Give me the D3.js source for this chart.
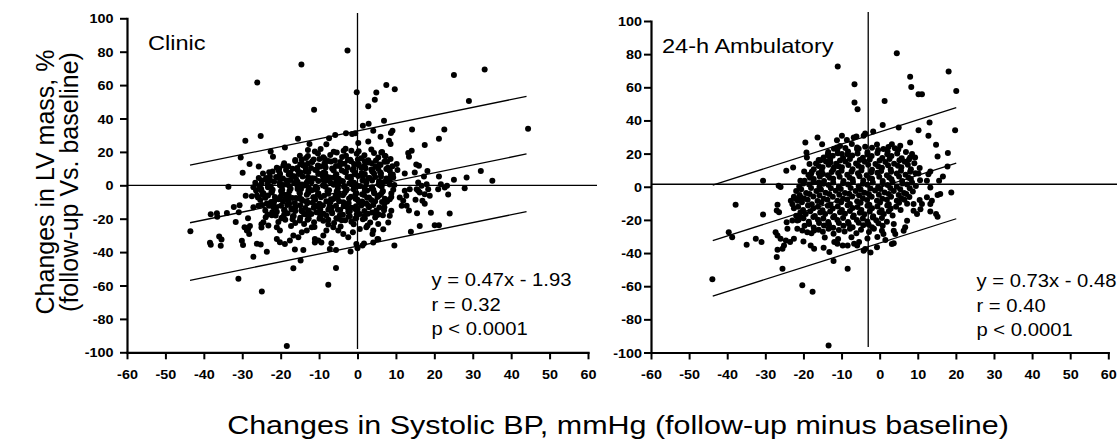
<!DOCTYPE html>
<html>
<head>
<meta charset="utf-8">
<script src="https://cdn.jsdelivr.net/npm/d3@7"></script>
<style>
  body { margin: 0; background: #fff; }
  text { font-family: "Liberation Sans", Arial, Helvetica, sans-serif; fill: #000; }
</style>
</head>
<body>
<div id="chart"></div>
<script>

// ---------- data ----------
const xTickValues = [-60, -50, -40, -30, -20, -10, 0, 10, 20, 30, 40, 50, 60]
const yTickValues = [-100, -80, -60, -40, -20, 0, 20, 40, 60, 80, 100]

const panelNames = ["Clinic", "24-h Ambulatory"]
const clinicStats = ["y = 0.47x - 1.93", "r = 0.32", "p < 0.0001"]
const ambulatoryStats = ["y = 0.73x - 0.48", "r = 0.40", "p < 0.0001"]

// regression: slope, intercept, half width of the band, x extent
const clinicFit = [0.47, -1.93, 34.5, -43.6, 44.0]
const ambulatoryFit = [0.73, -0.48, 33.5, -43.8, 20.1]

// reference cross lines: [x of vertical, y of horizontal]
const clinicCross = [0, 0]
const ambulatoryCross = [-3, 1.5]

const yTitle = ["Changes in LV mass, %", "(follow-up Vs. baseline)"]
const xTitle = "Changes in Systolic BP, mmHg (follow-up minus baseline)"

const clinicPoints = [
  // sparse / outlying
  [-2.6,80.7],[-14.6,72.3],[-26.1,61.5],[-11.3,45.2],[-0.2,55.7],[4.9,55.5],[4.5,51.3],[2.8,47.3],[7.5,60.1],[9.7,57.5],
  [25.1,66.1],[33.1,69.3],[29.0,50.5],[44.4,33.9],[6.9,38.7],[2.9,36.8],[1.4,35.6],[4.1,32.7],[14.2,33.4],[22.6,33.4],
  [9.1,32.7],[8.7,31.3],[6.0,29.1],[21.2,27.9],[17.5,24.2],[2.8,26.3],[8.2,26.7],[8.6,24.7],[14.1,20.7],[13.4,17.1],
  [13.2,19.3],[0.2,25.3],[15.3,12.5],[16.0,11.7],[18.2,8.5],[10.2,12.7],[10.4,9.1],[12.3,7.1],[14.9,7.7],[17.3,5.3],
  [21.2,5.3],[25.1,3.3],[28.4,4.7],[32.1,8.5],[35.1,2.7],[9.3,4.7],[7.5,9.7],[6.2,19.7],[7.1,17.7],[-3.6,20.7],[-1.6,20.7],
  [-29.2,26.7],[-25.2,29.5],[-30.4,16.7],[-28.1,12.7],[-29.9,7.5],[-25.7,11.2],[-22.6,20.3],[-22.0,17.1],[-18.9,22.6],
  [-15.5,27.8],[-12.5,24.8],[-11.1,20.3],[-8.1,24.6],[-8.5,15.7],[-7.4,28.1],[-5.8,30.1],[-3.0,31.1],[-1.4,30.7],[-0.6,31.1],
  [-15.0,17.7],[-23.7,3.3],[-25.0,1.1],[-12.9,21.1],[-33.6,-0.9],
  [-43.5,-27.5],[-38.2,-17.4],[-36.6,-16.7],[-36.5,-18.8],[-34.0,-16.6],[-38.4,-34.4],[-38.2,-35.6],[-36.0,-30.7],[-35.4,-32.4],
  [-35.6,-36.2],[-32.2,-13.0],[-30.7,-12.0],[-31.7,-22.0],[-30.9,-16.2],[-30.1,-33.2],[-29.8,-35.7],[-29.4,-25.1],[-28.8,-27.1],
  [-28.2,-29.2],[-27.1,-42.8],[-25.2,-35.4],[-26.2,-35.0],[-23.6,-39.8],[-31.0,-56.0],[-24.9,-63.6],[-18.4,-96.3],[-16.7,-49.7],
  [-14.8,-45.1],[-14.1,-38.7],[-16.3,-38.5],[-7.6,-59.6],[-5.6,-49.5],[-7.2,-38.1],[-5.6,-38.7],[-6.8,-34.7],[-1.8,-39.7],
  [0.0,-37.7],[-0.3,-35.1],[1.3,-36.1],[5.2,-32.1],[3.9,-29.1],
  [-29.1,-6.2],[-27.5,-6.6],[-26.2,-6.0],[-24.7,-5.6],[-27.1,-13.2],[-25.8,-12.2],[-28.5,-19.7],[-28.0,-24.3],[-28.5,-26.3],
  [-25.0,-23.3],[-25.0,-25.3],[-23.9,-19.1],[-24.5,-22.1],[-23.2,-24.1],
  [-21.0,-25.1],[-20.2,-27.1],[-21.0,-32.1],[-20.2,-34.1],[-18.9,-35.1],[-17.6,-33.1],[-16.7,-30.1],[-15.4,-31.1],[-14.5,-28.1],
  [-13.2,-27.1],[-11.9,-25.1],[-11.1,-32.1],[-10.2,-33.1],[-8.9,-30.1],[-8.1,-27.1],[-6.3,-25.1],[-5.0,-27.1],[-3.7,-29.1],
  [-2.4,-31.1],[-1.2,-28.1],[0.6,-26.1],[2.3,-25.1],[4.1,-27.1],[5.4,-23.1],[-11.1,-34.3],[-9.4,-34.3],
  [27.9,-1.7],[23.3,-0.3],[21.0,-2.3],[22.7,-1.3],[21.7,0.7],[23.6,-5.5],[17.5,-11.1],[16.9,-9.3],[15.1,-8.7],[13.4,-15.1],
  [15.5,-16.7],[19.1,-16.5],[24.0,-16.9],[16.2,-24.3],[20.1,-23.9],[21.2,-23.9],[13.9,-27.8],[9.6,-36.1],[8.4,-18.3],
  [12.3,-3.3],[12.7,-6.3],[15.8,-3.3],[17.5,-5.3],[18.8,-6.3],[18.4,-2.3],[18.0,0.7],[16.2,-4.3],[15.4,-2.3],[16.7,-0.3],
  [15.8,1.7],[13.6,-2.3],[11.9,-9.3],[11.5,-12.3],[12.8,-12.3],[11.0,-7.3],[8.8,-15.3],[8.0,-22.3],[6.7,-26.3],[5.4,-32.3],
  [4.1,-34.3],[1.7,-34.9],
  // dense core
  [-9.6,21.8],[-6.2,20.1],[-3.1,21.9],[0.3,20.4],[3.6,21.5],[6.4,20.0],
  [-12.9,17.5],[-10.3,19.1],[-7.1,18.2],[-5.4,19.6],[-3.0,17.7],[-0.2,18.9],[1.8,18.0],[4.3,19.3],[7.3,17.4],
  [-16.2,15.2],[-13.4,16.4],[-11.4,15.5],[-8.9,16.8],[-5.9,14.9],[-4.0,16.9],[-1.9,15.3],[1.0,16.2],[2.8,15.0],[5.4,16.6],[8.6,15.7],
  [-19.1,13.2],[-16.2,14.6],[-14.4,12.7],[-11.8,13.9],[-8.6,13.0],[-6.9,14.3],[-4.5,12.4],[-1.7,14.4],[0.3,12.8],[2.8,13.7],[5.8,12.5],[7.7,14.1],
  [-21.0,10.5],[-19.3,11.8],[-16.9,9.9],[-14.1,11.9],[-12.1,10.3],[-9.6,11.2],[-6.6,10.0],[-4.7,11.6],[-2.6,10.7],[0.3,12.1],[2.1,10.2],[4.7,11.4],[7.9,10.5],
  [-23.0,7.8],[-20.5,8.7],[-17.5,7.5],[-15.6,9.1],[-13.5,8.2],[-10.6,9.6],[-8.8,7.7],[-6.2,8.9],[-3.0,8.0],[-1.3,9.3],[1.1,7.4],[3.9,9.4],[5.9,7.8],[8.4,8.7],
  [-24.6,7.1],[-22.8,5.2],[-20.2,6.4],[-17.0,5.5],[-15.3,6.8],[-12.9,4.9],[-10.1,6.9],[-8.1,5.3],[-5.6,6.2],[-2.6,5.0],[-0.7,6.6],[1.4,5.7],[4.3,7.1],[6.1,5.2],[8.7,6.4],
  [-25.7,4.3],[-23.3,2.4],[-20.5,4.4],[-18.5,2.8],[-16.0,3.7],[-13.0,2.5],[-11.1,4.1],[-9.0,3.2],[-6.1,4.6],[-4.3,2.7],[-1.7,3.9],[1.5,3.0],[3.2,4.3],[5.6,2.4],[8.4,4.4],
  [-26.6,1.6],[-23.4,0.7],[-21.7,2.1],[-19.3,0.2],[-16.5,1.4],[-14.5,0.5],[-12.0,1.8],[-9.0,-0.1],[-7.1,1.9],[-5.0,0.3],[-2.1,1.2],[-0.3,0.0],[2.3,1.6],[5.5,0.7],[7.2,2.1],[9.6,0.2],
  [-27.1,-1.1],[-25.1,-2.0],[-22.6,-0.7],[-19.6,-2.6],[-17.7,-0.6],[-15.6,-2.2],[-12.7,-1.3],[-10.9,-2.5],[-8.3,-0.9],[-5.1,-1.8],[-3.4,-0.4],[-1.0,-2.3],[1.8,-1.1],[3.8,-2.0],[6.3,-0.7],[9.3,-2.6],
  [-26.4,-3.1],[-24.5,-4.7],[-22.4,-3.8],[-19.5,-5.0],[-17.7,-3.4],[-15.1,-4.3],[-11.9,-2.9],[-10.2,-4.8],[-7.8,-3.6],[-5.0,-4.5],[-3.0,-3.2],[-0.5,-5.1],[2.5,-3.1],[4.4,-4.7],[6.5,-3.8],[8.8,-4.9],
  [-25.9,-7.3],[-23.3,-6.1],[-20.1,-7.0],[-18.4,-5.7],[-16.0,-7.6],[-13.2,-5.6],[-11.2,-7.2],[-8.7,-6.3],[-5.7,-7.5],[-3.8,-5.9],[-1.7,-6.8],[1.2,-5.4],[3.0,-7.3],[5.6,-6.1],[8.8,-7.0],
  [-25.3,-8.8],[-22.5,-10.0],[-20.5,-8.4],[-18.0,-9.3],[-15.0,-7.9],[-13.1,-9.8],[-11.0,-8.6],[-8.1,-9.5],[-6.3,-8.2],[-3.7,-10.1],[-0.5,-8.1],[1.2,-9.7],[3.6,-8.8],[6.4,-10.0],[8.4,-8.4],
  [-24.8,-11.8],[-21.8,-10.4],[-19.9,-12.3],[-17.8,-11.1],[-14.9,-12.0],[-13.1,-10.7],[-10.5,-12.6],[-7.3,-10.6],[-5.6,-12.2],[-3.2,-11.3],[-0.4,-12.5],[1.6,-10.9],[4.1,-11.8],[7.1,-10.4],
  [-24.0,-15.1],[-21.9,-13.1],[-19.0,-14.7],[-17.2,-13.8],[-14.6,-15.0],[-11.4,-13.4],[-9.7,-14.3],[-7.3,-12.9],[-4.5,-14.8],[-2.5,-13.6],[0.0,-14.5],[3.0,-13.2],[4.9,-15.1],[7.0,-13.1],
  [-23.4,-17.5],[-21.0,-15.9],[-18.2,-16.8],[-16.2,-15.4],[-13.7,-17.3],[-10.7,-16.1],[-8.8,-17.0],[-6.7,-15.7],[-3.8,-17.6],[-2.0,-15.6],[0.6,-17.2],[3.8,-16.3],[5.5,-17.5],
  [-22.3,-17.9],[-19.8,-19.8],[-16.8,-18.6],[-14.9,-19.5],[-12.8,-18.2],[-9.9,-20.1],[-8.1,-18.1],[-5.5,-19.7],[-2.3,-18.8],[-0.6,-20.0],[1.8,-18.4],[4.6,-19.3],[6.6,-17.9],
  [-20.6,-22.0],[-18.8,-20.7],[-16.2,-22.6],[-13.0,-20.6],[-11.3,-22.2],[-8.9,-21.3],[-6.1,-22.5],[-4.1,-20.9],[-1.6,-21.8],[1.4,-20.4],[3.3,-22.3],
  [-17.3,-24.3],[-13.9,-23.2],[-11.2,-24.9],[-7.6,-23.5],[-4.4,-24.6],[-1.0,-23.3],[2.6,-24.1],
  // dense core, second layer
  [-14.5,15.3],[-11.8,14.2],[-9.9,15.7],[-7.6,14.6],[-4.5,13.9],[-2.5,15.1],[0.1,15.5],[1.9,14.4],[4.8,14.9],[7.0,14.1],
  [-18.0,11.4],[-14.9,12.6],[-12.9,13.0],[-10.3,11.9],[-8.5,12.4],[-5.6,11.6],[-3.4,12.9],[-0.9,12.8],[1.8,11.7],[3.7,13.2],[6.0,12.1],[9.1,11.4],
  [-20.4,9.9],[-18.6,9.1],[-15.7,10.4],[-13.5,10.3],[-11.0,9.2],[-8.3,10.7],[-6.4,9.6],[-4.1,8.9],[-1.0,10.1],[1.0,10.5],[3.6,9.4],[5.4,9.9],[8.3,9.1],
  [-22.1,8.2],[-20.2,7.1],[-17.9,6.4],[-14.8,7.6],[-12.8,8.0],[-10.2,6.9],[-8.4,7.4],[-5.5,6.6],[-3.3,7.9],[-0.8,7.8],[1.9,6.7],[3.8,8.2],[6.1,7.1],[9.2,6.4],
  [-23.8,4.4],[-21.2,4.9],[-19.4,4.1],[-16.5,5.4],[-14.3,5.3],[-11.8,4.2],[-9.1,5.7],[-7.2,4.6],[-4.9,3.9],[-1.8,5.1],[0.2,5.5],[2.8,4.4],[4.6,4.9],[7.5,4.1],
  [-24.9,2.9],[-22.7,2.8],[-20.2,1.7],[-17.5,3.2],[-15.6,2.1],[-13.3,1.4],[-10.2,2.6],[-8.2,3.0],[-5.6,1.9],[-3.8,2.4],[-0.9,1.6],[1.3,2.9],[3.8,2.8],[6.5,1.7],[8.4,3.2],
  [-25.6,-0.4],[-23.3,-1.1],[-20.2,0.1],[-18.2,0.5],[-15.6,-0.6],[-13.8,-0.1],[-10.9,-0.9],[-8.7,0.4],[-6.2,0.3],[-3.5,-0.8],[-1.6,0.7],[0.7,-0.4],[3.8,-1.1],[5.8,0.1],[8.4,0.5],
  [-25.0,-3.1],[-22.1,-2.6],[-19.9,-3.4],[-17.4,-2.1],[-14.7,-2.2],[-12.8,-3.3],[-10.5,-1.8],[-7.4,-2.9],[-5.4,-3.6],[-2.8,-2.4],[-1.0,-2.0],[1.9,-3.1],[4.1,-2.6],[6.6,-3.4],
  [-24.3,-5.8],[-22.3,-4.3],[-19.7,-5.4],[-17.9,-6.1],[-15.0,-4.9],[-12.8,-4.5],[-10.3,-5.6],[-7.6,-5.1],[-5.7,-5.9],[-3.4,-4.6],[-0.3,-4.7],[1.7,-5.8],[4.3,-4.3],[6.1,-5.4],
  [-24.0,-7.4],[-21.5,-7.0],[-18.8,-8.1],[-16.9,-7.6],[-14.6,-8.4],[-11.5,-7.1],[-9.5,-7.2],[-6.9,-8.3],[-5.1,-6.8],[-2.2,-7.9],[0.0,-8.6],[2.5,-7.4],[5.2,-7.0],[7.1,-8.1],
  [-23.6,-10.9],[-21.7,-9.6],[-19.4,-9.7],[-16.3,-10.8],[-14.3,-9.3],[-11.7,-10.4],[-9.9,-11.1],[-7.0,-9.9],[-4.8,-9.5],[-2.3,-10.6],[0.4,-10.1],[2.3,-10.9],[4.6,-9.6],[7.7,-9.7],
  [-23.0,-12.2],[-21.2,-13.3],[-18.3,-11.8],[-16.1,-12.9],[-13.6,-13.6],[-10.9,-12.4],[-9.0,-12.0],[-6.7,-13.1],[-3.6,-12.6],[-1.6,-13.4],[1.0,-12.1],[2.8,-12.2],[5.7,-13.3],
  [-22.2,-16.1],[-19.1,-14.9],[-17.1,-14.5],[-14.5,-15.6],[-12.7,-15.1],[-9.8,-15.9],[-7.6,-14.6],[-5.1,-14.7],[-2.4,-15.8],[-0.5,-14.3],[1.8,-15.4],[4.9,-16.1],[6.9,-14.9],
  [-21.3,-18.1],[-19.1,-17.6],[-16.6,-18.4],[-13.9,-17.1],[-12.0,-17.2],[-9.7,-18.3],[-6.6,-16.8],[-4.6,-17.9],[-2.0,-18.6],[-0.2,-17.4],[2.7,-17.0],[4.9,-18.1],
  [-19.6,-19.3],[-16.9,-20.4],[-15.0,-21.1],[-12.7,-19.9],[-9.6,-19.5],[-7.6,-20.6],[-5.0,-20.1],[-3.2,-20.9],[-0.3,-19.6],[1.9,-19.7]
]

const ambulatoryPoints = [
  // sparse / outlying
  [-11.0,72.5],[-6.6,61.9],[-6.6,50.8],[-5.8,46.8],[-30.6,3.6],[-26.5,0.6],[-24.5,9.6],[-22.7,11.6],[-19.5,26.7],[-16.3,29.7],
  [-20.8,3.6],[-19.2,20.7],[-19.1,17.7],[-18.4,13.7],[-19.8,9.2],[-18.0,7.7],[-16.0,16.1],[-14.9,7.7],[-16.0,2.6],[-14.7,2.0],
  [-13.4,18.7],[-12.9,14.6],[-12.0,11.6],[-11.2,23.7],[-9.9,19.7],[-8.6,28.2],[-6.8,29.7],[-5.9,23.7],[-15.1,25.7],[-11.2,28.1],
  [-9.9,30.7],[-6.1,30.3],
  [4.5,80.5],[18.1,69.5],[8.0,66.3],[8.3,60.2],[10.2,55.8],[11.1,55.8],[20.1,57.8],[1.3,51.8],[19.8,34.1],[13.1,38.8],
  [10.2,34.1],[12.8,30.7],[5.0,35.7],[0.8,37.3],[-1.7,33.3],[-4.2,30.7],[-3.8,32.1],[14.8,25.3],[17.9,20.3],[15.2,18.3],
  [17.8,12.2],[8.0,26.7],[8.5,19.7],[8.0,17.7],[9.3,17.7],[5.4,24.7],[3.2,25.7],[13.3,9.2],[12.8,7.6],[10.2,8.0],[16.6,6.2],
  [15.6,3.6],[12.4,3.6],[13.3,-0.4],[12.4,-6.4],[13.7,-8.4],[13.3,-10.4],[18.8,-3.4],[15.9,-4.4],[15.2,-5.0],[10.5,-8.0],
  [11.1,-10.4],[10.7,-13.5],[14.8,-16.5],[15.2,-18.1],[13.3,-14.9],[8.9,-14.5],[9.8,-16.5],[8.9,-10.4],[7.2,-20.5],[6.7,-24.5],
  [6.3,-26.5],[3.7,-22.5],[3.7,-26.5],[4.1,-28.5],[3.2,-34.5],[3.7,-34.1],[1.5,-32.1],[-0.7,-36.5],[-2.4,-39.6],[-3.8,-37.6],
  [-4.2,-38.6],[-5.9,-35.5],[1.0,-28.5],[0.6,-26.5],
  [-43.9,-55.8],[-37.8,-10.8],[-39.6,-27.4],[-38.7,-30.4],[-34.9,-35.0],[-32.5,-31.4],[-31.0,-33.4],[-30.6,-16.8],[-26.0,-0.2],
  [-26.8,-10.8],[-27.0,-14.4],[-26.4,-15.4],[-27.3,-27.4],[-26.8,-29.4],[-26.0,-31.4],[-27.0,-42.4],[-26.8,-38.0],[-25.5,-37.4],
  [-25.1,-35.4],[-25.5,-49.4],[-24.6,-32.4],[-23.5,-33.4],[-22.5,-31.4],[-24.4,-21.4],[-24.2,-25.4],[-20.3,-59.4],[-17.6,-63.4],
  [-20.0,-33.0],[-18.1,-35.4],[-17.2,-37.4],[-13.4,-95.8],[-13.2,-39.4],[-12.1,-44.8],[-14.7,-36.8],[-8.4,-49.4],[-11.9,-33.4],
  [-11.1,-34.4],[-9.7,-35.4],[-8.4,-35.4],[-6.7,-34.4],[-5.4,-33.4],[-23.3,-8.4],[-22.0,-7.4],[-20.7,-6.4],[-22.9,-20.4],
  [-21.6,-20.4],[-20.7,-18.4],[-21.6,-25.4],[-20.3,-26.4],[-19.0,-27.4],[-17.2,-26.4],
  // dense core
  [-10.4,24.6],[-7.3,25.8],[-3.8,24.2],[-0.7,25.5],[2.3,24.0],
  [-13.5,21.0],[-11.1,22.4],[-8.3,21.2],[-5.9,22.6],[-3.2,20.8],[-0.4,22.1],[2.1,21.3],[4.9,22.5],[6.9,20.9],
  [-14.7,17.6],[-12.3,18.7],[-9.6,17.4],[-7.2,18.8],[-4.4,17.5],[-2.1,18.6],[0.7,17.3],[3.1,18.5],[5.8,17.2],
  [-16.7,14.1],[-14.1,15.2],[-11.4,13.9],[-9.0,15.3],[-6.2,14.0],[-3.9,15.1],[-1.1,13.8],[1.5,15.0],[3.8,13.9],[6.6,15.1],[9.1,14.2],
  [-17.3,10.6],[-15.0,11.7],[-12.2,10.4],[-9.9,11.8],[-7.1,10.5],[-4.7,11.6],[-2.0,10.3],[0.6,11.5],[2.9,10.4],[5.7,11.7],[8.2,10.6],[10.5,11.3],
  [-18.7,7.1],[-16.0,8.2],[-13.6,7.0],[-10.9,8.3],[-8.5,7.2],[-5.7,8.1],[-3.4,6.9],[-0.6,8.4],[1.9,7.0],[4.5,8.0],[6.8,7.3],[9.4,8.1],
  [-19.7,3.6],[-17.3,4.7],[-14.6,3.5],[-12.2,4.8],[-9.5,3.4],[-7.1,4.6],[-4.3,3.7],[-2.0,4.9],[0.8,3.5],[3.1,4.6],[5.9,3.4],[8.2,4.7],[10.6,3.9],
  [-21.1,0.2],[-18.5,1.3],[-15.8,-0.1],[-13.4,1.1],[-10.7,0.0],[-8.3,1.4],[-5.5,0.1],[-3.2,1.2],[-0.4,-0.2],[2.1,1.0],[4.5,0.0],[7.2,1.3],[9.5,0.4],
  [-21.9,-2.6],[-19.3,-3.7],[-16.6,-2.5],[-14.2,-3.6],[-11.5,-2.4],[-9.1,-3.8],[-6.3,-2.5],[-4.0,-3.6],[-1.2,-2.3],[1.3,-3.5],[3.7,-2.6],[6.4,-3.7],[8.7,-2.8],
  [-22.5,-6.0],[-19.8,-7.1],[-17.4,-5.9],[-14.7,-7.2],[-12.3,-6.1],[-9.6,-7.3],[-7.2,-5.9],[-4.4,-7.0],[-2.1,-6.0],[0.7,-7.2],[3.0,-6.1],[5.7,-7.0],[7.8,-6.2],
  [-22.9,-10.5],[-20.4,-9.4],[-17.8,-10.6],[-15.3,-9.5],[-12.9,-10.7],[-10.1,-9.3],[-7.8,-10.4],[-5.0,-9.6],[-2.7,-10.8],[0.1,-9.5],[2.4,-10.6],[5.1,-9.7],[7.2,-10.3],
  [-22.5,-13.0],[-20.1,-14.1],[-17.4,-12.9],[-15.0,-14.2],[-12.3,-13.1],[-9.9,-14.0],[-7.1,-12.8],[-4.8,-14.1],[-2.0,-13.0],[0.5,-14.2],[2.9,-13.1],[5.5,-14.0],
  [-21.9,-17.5],[-19.4,-16.4],[-17.0,-17.6],[-14.3,-16.5],[-11.9,-17.7],[-9.1,-16.3],[-6.8,-17.4],[-4.0,-16.6],[-1.7,-17.8],[1.1,-16.4],[3.4,-17.3],
  [-21.3,-20.0],[-18.6,-21.1],[-16.2,-19.9],[-13.5,-21.2],[-11.1,-20.1],[-8.3,-21.3],[-6.0,-20.0],[-3.2,-21.0],[-0.9,-20.2],[1.9,-21.1],
  [-19.7,-23.5],[-17.3,-24.6],[-14.6,-23.4],[-12.2,-24.7],[-9.5,-23.6],[-7.1,-24.5],[-4.3,-23.3],[-2.0,-24.4],[0.8,-23.6],
  [-17.9,-28.0],[-14.9,-27.1],[-12.1,-28.3],[-9.2,-27.0],[-6.1,-28.1],[-2.8,-27.3],
  [-14.4,-30.6],[-10.9,-31.5],[-7.4,-30.4],[-3.2,-31.2],[-0.6,-30.3],
  // dense core, second layer
  [-12.0,23.0],[-9.0,23.4],[-5.5,22.9],[-2.0,23.5],[1.0,22.8],[4.0,23.3],
  [-13.6,19.6],[-11.0,20.2],[-8.4,19.5],[-5.8,20.1],[-3.2,19.4],[-0.6,20.3],[2.0,19.6],[4.6,20.0],
  [-15.5,16.0],[-13.0,16.6],[-10.4,15.9],[-7.8,16.7],[-5.2,16.1],[-2.6,16.5],[0.0,15.9],[2.6,16.8],[5.2,16.0],[7.7,16.5],
  [-16.0,12.5],[-13.4,13.2],[-10.8,12.4],[-8.2,13.1],[-5.6,12.6],[-3.0,13.3],[-0.4,12.3],[2.2,13.0],[4.8,12.6],[7.4,13.2],
  [-17.8,9.0],[-15.2,9.7],[-12.6,8.9],[-10.0,9.6],[-7.4,9.1],[-4.8,9.8],[-2.2,8.8],[0.4,9.5],[3.0,9.1],[5.6,9.7],[8.0,9.0],
  [-18.3,5.5],[-15.7,6.2],[-13.1,5.4],[-10.5,6.1],[-7.9,5.6],[-5.3,6.3],[-2.7,5.3],[-0.1,6.0],[2.5,5.6],[5.1,6.2],[7.6,5.5],
  [-20.0,2.0],[-17.4,2.7],[-14.8,1.9],[-12.2,2.6],[-9.6,2.1],[-7.0,2.8],[-4.4,1.8],[-1.8,2.5],[0.8,2.1],[3.4,2.7],[6.0,2.0],[8.5,2.6],
  [-20.6,-1.5],[-18.0,-0.8],[-15.4,-1.6],[-12.8,-0.9],[-10.2,-1.4],[-7.6,-0.7],[-5.0,-1.7],[-2.4,-1.0],[0.2,-1.4],[2.8,-0.8],[5.4,-1.5],[7.9,-0.9],
  [-21.0,-5.0],[-18.4,-4.3],[-15.8,-5.1],[-13.2,-4.4],[-10.6,-4.9],[-8.0,-4.2],[-5.4,-5.2],[-2.8,-4.5],[-0.2,-4.9],[2.4,-4.3],[5.0,-5.0],[7.0,-4.4],
  [-21.5,-8.5],[-18.9,-7.8],[-16.3,-8.6],[-13.7,-7.9],[-11.1,-8.4],[-8.5,-7.7],[-5.9,-8.7],[-3.3,-8.0],[-0.7,-8.4],[1.9,-7.8],[4.5,-8.5],[6.5,-7.9],
  [-21.4,-12.0],[-18.8,-11.3],[-16.2,-12.1],[-13.6,-11.4],[-11.0,-11.9],[-8.4,-11.2],[-5.8,-12.2],[-3.2,-11.5],[-0.6,-11.9],[2.0,-11.3],[4.3,-12.0],
  [-20.8,-15.5],[-18.2,-14.8],[-15.6,-15.6],[-13.0,-14.9],[-10.4,-15.4],[-7.8,-14.7],[-5.2,-15.7],[-2.6,-15.0],[0.0,-15.4],[2.4,-14.8],
  [-20.0,-19.0],[-17.4,-18.3],[-14.8,-19.1],[-12.2,-18.4],[-9.6,-18.9],[-7.0,-18.2],[-4.4,-19.2],[-1.8,-18.5],[0.6,-18.9],
  [-18.5,-22.5],[-15.9,-21.8],[-13.3,-22.6],[-10.7,-21.9],[-8.1,-22.4],[-5.5,-21.7],[-2.9,-22.7],[-0.3,-22.0],
  [-16.0,-26.0],[-13.4,-25.3],[-10.7,-26.1],[-7.8,-25.4],[-4.9,-26.0],[-1.5,-25.4]
]

// ---------- layout ----------
const SX = 1.15   // the figure is stretched sideways, text too

let svg = d3.select("#chart")
    .append("svg")
        .attr("width", 1117)
        .attr("height", 445)

function draw_panel(cfg){

    let x = d3.scaleLinear().domain([-60, 60]).range([cfg.left, cfg.right])
    let y = d3.scaleLinear().domain([-100, 100]).range([cfg.bottom, cfg.top])

    let g = svg.append("g")

    // cross lines
    g.append("line")
        .attr("x1", x(cfg.cross[0])).attr("x2", x(cfg.cross[0]))
        .attr("y1", cfg.vTop).attr("y2", cfg.vBottom)
        .attr("stroke", "#000").attr("stroke-width", 1.3)
    g.append("line")
        .attr("x1", x(-60)).attr("x2", cfg.hEnd)
        .attr("y1", y(cfg.cross[1])).attr("y2", y(cfg.cross[1]))
        .attr("stroke", "#000").attr("stroke-width", 1.3)

    // regression line and its band
    let [slope, intercept, band, x0, x1] = cfg.fit
    g.selectAll(".fit")
        .data([-band, 0, band])
        .join("line")
        .attr("x1", x(x0)).attr("x2", x(x1))
        .attr("y1", off => y(slope * x0 + intercept + off))
        .attr("y2", off => y(slope * x1 + intercept + off))
        .attr("stroke", "#000").attr("stroke-width", 1.3)

    // points
    g.selectAll(".pt")
        .data(cfg.points)
        .join("circle")
        .attr("cx", d => x(d[0]))
        .attr("cy", d => y(d[1]))
        .attr("r", 3)
        .attr("fill", "#000")

    // axes (plain hyphen for negatives, as in the figure)
    let gx = g.append("g")
        .attr("transform", `translate(0,${cfg.bottom})`)
        .call(d3.axisBottom(x).tickValues(xTickValues).tickFormat(d => String(d))
            .tickSize(7).tickSizeOuter(0).tickPadding(11))
    let gy = g.append("g")
        .attr("transform", `translate(${cfg.left},0)`)
        .call(d3.axisLeft(y).tickValues(yTickValues).tickFormat(d => String(d))
            .tickSize(7).tickSizeOuter(0))

    for (let ax of [gx, gy]){
        ax.attr("font-family", null).attr("font-size", null)
        ax.select(".domain").attr("stroke-width", 2.2).attr("stroke-linecap", "square")
        ax.selectAll(".tick line").attr("stroke-width", 2)
        ax.selectAll(".tick text")
            .style("font-size", "12.5px")
            .style("font-weight", "bold")
            .attr("transform", `scale(${SX},1)`)
    }
    gy.selectAll(".tick text").attr("x", -cfg.yLabelGap / SX).attr("dy", "0.36em")

    // panel name
    g.append("text")
        .attr("transform", `translate(${cfg.nameX},${cfg.nameY}) scale(${SX},1)`)
        .style("font-size", "20.5px")
        .text(cfg.name)

    // stats
    g.selectAll(".stat")
        .data(cfg.stats)
        .join("text")
        .attr("transform", (d, i) => `translate(${cfg.statX},${cfg.statY + i * 24.6}) scale(${SX},1)`)
        .style("font-size", "17.6px")
        .text(d => d)
}

draw_panel({
    left: 127, right: 588, top: 18.3, bottom: 352.3,
    points: clinicPoints, fit: clinicFit, cross: clinicCross,
    vTop: 13, vBottom: 349, hEnd: 597,
    yLabelGap: 13.4,
    name: panelNames[0], nameX: 148, nameY: 50,
    stats: clinicStats, statX: 431.5, statY: 286
})

draw_panel({
    left: 651, right: 1108.3, top: 21, bottom: 352.5,
    points: ambulatoryPoints, fit: ambulatoryFit, cross: ambulatoryCross,
    vTop: 12, vBottom: 347, hEnd: 1117,
    yLabelGap: 9,
    name: panelNames[1], nameX: 662, nameY: 53,
    stats: ambulatoryStats, statX: 976.5, statY: 287
})

// axis titles
svg.selectAll(".ytitle")
    .data(yTitle)
    .join("text")
    .attr("transform", (d, i) => `translate(${54 + i * 24},182) rotate(-90)`)
    .attr("text-anchor", "middle")
    .style("font-size", "25px")
    .text(d => d)

svg.append("text")
    .attr("transform", `translate(618,434) scale(${SX},1)`)
    .attr("text-anchor", "middle")
    .style("font-size", "26.5px")
    .text(xTitle)

</script>
</body>
</html>
